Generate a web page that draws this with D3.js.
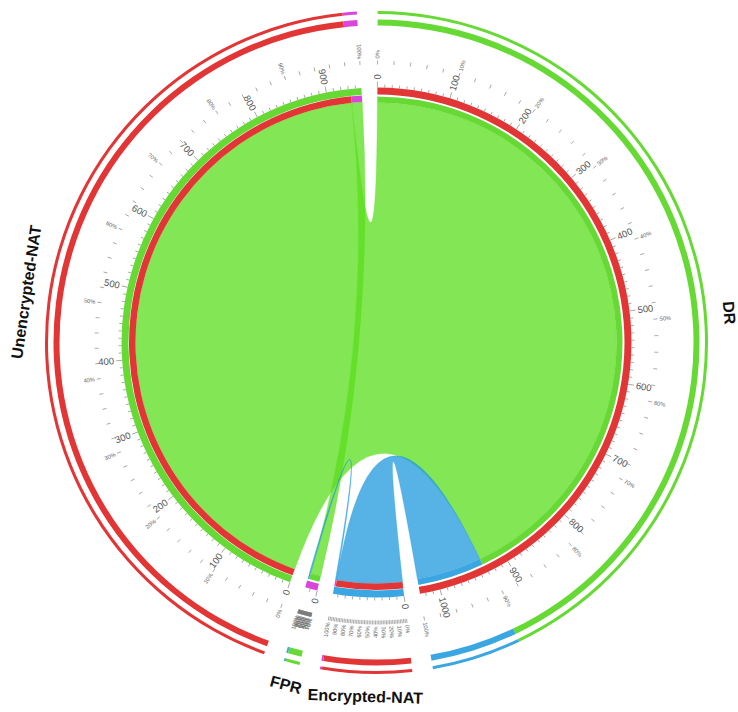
<!DOCTYPE html>
<html>
<head>
<meta charset="utf-8">
<script src="https://cdn.jsdelivr.net/npm/d3@7"></script>
<style>
  body { margin: 0; background: #fff; }
  svg { display: block; }
</style>
</head>
<body>
<svg id="chart"></svg>
<script>
// Segments, clockwise from the top
const segments = ["DR", "Encrypted-NAT", "FPR", "Unencrypted-NAT"];
const segmentColors = ["#e23535", "#3ba7e2", "#dc45dc", "#66d934"];
const ribbonColors = ["#e23535", "#1f9ade", "#dc45dc", "#5ade1c"];

// Links (row -> column of the table)
const linkSources = ["Unencrypted-NAT", "Unencrypted-NAT", "Encrypted-NAT", "Encrypted-NAT"];
const linkTargets = ["DR", "FPR", "DR", "FPR"];
const linkValues = [933, 15, 95, 2];

// Tick steps
const minorStep = 10;
const majorStep = 100;
const pctMinor = 2;
const pctMajor = 10;

const W = 738, H = 712;
const cx = 376.5, cy = 342.5;
const rad = Math.PI / 180;

const svg = d3.select("#chart").attr("width", W).attr("height", H);
const g = svg.append("g").attr("transform", `translate(${cx},${cy})`);

// Segment sizes = row total + column total
const segLen = segments.map((s) =>
  d3.sum(linkValues.filter((v, i) => linkSources[i] === s || linkTargets[i] === s))
);
const total = d3.sum(segLen);
const gapDeg = 3.6, startDeg = 0.2;
const degPerUnit = (360 - segments.length * gapDeg) / total;

let cursor = startDeg;
const segInfo = segments.map((name, i) => {
  const a0 = cursor, a1 = cursor + segLen[i] * degPerUnit;
  cursor = a1 + gapDeg;
  return {
    name, color: segmentColors[i], ribbon: ribbonColors[i], len: segLen[i], a0, a1,
    scale: d3.scaleLinear().domain([0, segLen[i]]).range([a0 * rad, a1 * rad])
  };
});
const segByName = {};
segInfo.forEach((s) => (segByName[s.name] = s));

// place each link inside its two segments
const offset = {};
segments.forEach((s) => (offset[s] = 0));
const links = linkValues.map((v, i) => {
  const s = segByName[linkSources[i]], t = segByName[linkTargets[i]];
  const s0 = offset[s.name]; offset[s.name] += v;
  const t0 = offset[t.name]; offset[t.name] += v;
  return { value: v, source: s, target: t, s0, s1: s0 + v, t0, t1: t0 + v };
});

const arc = d3.arc();

// ribbons
const ribbon = d3.ribbon().sourceRadius(241).targetRadius(240);
g.append("g")
  .selectAll("path")
  .data(links)
  .join("path")
  .attr("d", (d) => ribbon({
    source: { startAngle: d.source.scale(d.s0), endAngle: d.source.scale(d.s1) },
    target: { startAngle: d.target.scale(d.t0), endAngle: d.target.scale(d.t1) }
  }))
  .attr("fill", (d) => d.source.ribbon)
  .attr("fill-opacity", 0.75)
  .attr("stroke", (d) => d.source.ribbon)
  .attr("stroke-opacity", 0.5)
  .attr("stroke-width", 0.6);

// ideogram bands
g.append("g")
  .selectAll("path")
  .data(segInfo)
  .join("path")
  .attr("d", (d) => arc({ innerRadius: 248, outerRadius: 255, startAngle: d.a0 * rad, endAngle: d.a1 * rad }))
  .attr("fill", (d) => d.color);

// inner bands and outer rings, coloured by the partner segment
const bands = [];
links.forEach((l) => {
  bands.push({ seg: l.source, v0: l.s0, v1: l.s1, color: l.target.color, inner: 241, outer: 247.5 });
  bands.push({ seg: l.target, v0: l.t0, v1: l.t1, color: l.source.color, inner: 240, outer: 246 });
});
const rings = [[317, 323], [328.5, 331.5]];
const ringData = [];
bands.forEach((b) => rings.forEach((r) => ringData.push({ ...b, inner: r[0], outer: r[1] })));

g.append("g")
  .selectAll("path")
  .data(bands.concat(ringData))
  .join("path")
  .attr("d", (d) => arc({ innerRadius: d.inner, outerRadius: d.outer, startAngle: d.seg.scale(d.v0), endAngle: d.seg.scale(d.v1) }))
  .attr("fill", (d) => d.color);

// absolute ticks
const tickG = g.append("g");
segInfo.forEach((s) => {
  const vals = d3.range(0, s.len + 0.001, minorStep);
  tickG.append("g")
    .selectAll("line")
    .data(vals)
    .join("line")
    .attr("transform", (v) => `rotate(${s.scale(v) / rad - 90})`)
    .attr("x1", 255)
    .attr("x2", (v) => (v % majorStep === 0 ? 261 : 258))
    .attr("stroke", "#777")
    .attr("stroke-width", 0.6);

  tickG.append("g")
    .selectAll("text")
    .data(vals.filter((v) => v % majorStep === 0))
    .join("text")
    .attr("transform", (v) => {
      const a = s.scale(v) / rad;
      return a < 180
        ? `rotate(${a - 90}) translate(263,0)`
        : `rotate(${a - 90}) translate(263,0) rotate(180)`;
    })
    .attr("text-anchor", (v) => (s.scale(v) / rad < 180 ? "start" : "end"))
    .attr("dy", "0.35em")
    .attr("font-family", "Liberation Sans, Arial, sans-serif")
    .attr("font-size", 9.5)
    .attr("fill", "#555")
    .text((v) => v);

  // percentage ticks
  const pcts = d3.range(0, 100.001, pctMinor);
  const pScale = d3.scaleLinear().domain([0, 100]).range(s.scale.range());
  tickG.append("g")
    .selectAll("line")
    .data(pcts)
    .join("line")
    .attr("transform", (p) => `rotate(${pScale(p) / rad - 90})`)
    .attr("x1", 278)
    .attr("x2", 282)
    .attr("stroke", "#777")
    .attr("stroke-width", 0.6);

  tickG.append("g")
    .selectAll("text")
    .data(pcts.filter((p) => Math.round(p) % pctMajor === 0))
    .join("text")
    .attr("transform", (p) => {
      const a = pScale(p) / rad;
      return a < 180
        ? `rotate(${a - 90}) translate(284,0)`
        : `rotate(${a - 90}) translate(284,0) rotate(180)`;
    })
    .attr("text-anchor", (p) => (pScale(p) / rad < 180 ? "start" : "end"))
    .attr("dy", "0.35em")
    .attr("font-family", "Liberation Sans, Arial, sans-serif")
    .attr("font-size", 5.8)
    .attr("fill", "#666")
    .text((p) => Math.round(p) + "%");
});

// segment names
g.append("g")
  .selectAll("text")
  .data(segInfo)
  .join("text")
  .attr("transform", (d) => {
    const a = (d.a0 + d.a1) / 2;
    const x = 354 * Math.sin(a * rad), y = -354 * Math.cos(a * rad);
    const rot = a > 90 && a < 270 ? a - 180 : a;
    return `translate(${x},${y}) rotate(${rot})`;
  })
  .attr("text-anchor", "middle")
  .attr("dy", "0.35em")
  .attr("font-family", "Liberation Sans, Arial, sans-serif")
  .attr("font-weight", "bold")
  .attr("font-size", 16)
  .attr("fill", "#111")
  .text((d) => d.name);
</script>
</body>
</html>
